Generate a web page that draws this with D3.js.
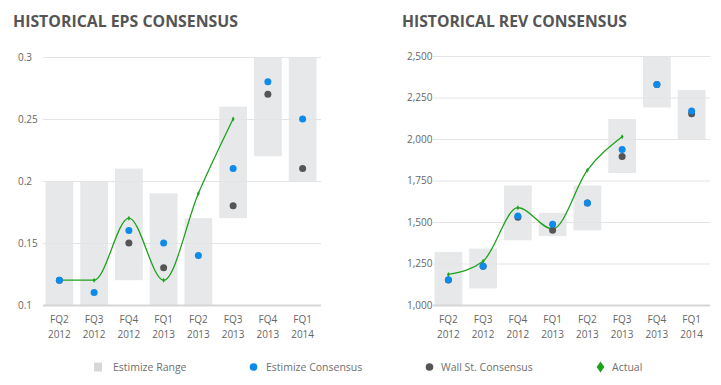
<!DOCTYPE html>
<html>
<head>
<meta charset="utf-8">
<script src="https://cdn.jsdelivr.net/npm/d3@7"></script>
<style>
  html, body { margin: 0; padding: 0; background: #fff; }
  svg { display: block; font-family: "Open Sans", "Lato", sans-serif; }
</style>
</head>
<body>
<svg id="chart" width="721" height="385"></svg>
<script>
// ---------- data ----------
const quarters = ["FQ2", "FQ3", "FQ4", "FQ1", "FQ2", "FQ3", "FQ4", "FQ1"];
const years    = ["2012", "2012", "2012", "2013", "2013", "2013", "2013", "2014"];

// EPS
const epsRangeLow   = [0.10, 0.10, 0.12, 0.10, 0.10, 0.17, 0.22, 0.20];
const epsRangeHigh  = [0.20, 0.20, 0.21, 0.19, 0.17, 0.26, 0.30, 0.30];
const epsEstimize   = [0.12, 0.11, 0.16, 0.15, 0.14, 0.21, 0.28, 0.25];
const epsWallSt     = [0.12, null, 0.15, 0.13, null, 0.18, 0.27, 0.21];
const epsActual     = [0.12, 0.12, 0.17, 0.12, 0.19, 0.25, null, null];
const epsTicks      = [0.1, 0.15, 0.2, 0.25, 0.3];
const epsTickLabels = ["0.1", "0.15", "0.2", "0.25", "0.3"];

// REV
const revRangeLow   = [1000, 1100, 1390, 1415, 1450, 1795, 2190, 2000];
const revRangeHigh  = [1320, 1340, 1720, 1555, 1720, 2120, 2500, 2295];
const revEstimize   = [1152, 1234, 1536, 1486, 1614, 1936, 2328, 2168];
const revWallSt     = [1150, 1234, 1528, 1450, 1614, 1894, 2328, 2152];
const revActual     = [1184, 1264, 1586, 1458, 1812, 2014, null, null];
const revTicks      = [1000, 1250, 1500, 1750, 2000, 2250, 2500];
const revTickLabels = ["1,000", "1,250", "1,500", "1,750", "2,000", "2,250", "2,500"];

const titles = ["HISTORICAL EPS CONSENSUS", "HISTORICAL REV CONSENSUS"];
const legendLabels = ["Estimize Range", "Estimize Consensus", "Wall St. Consensus", "Actual"];

// ---------- styles ----------
const C = {
  range: "#e7e8e9",
  grid: "#e4e4e4",
  axis: "#d6d6d6",
  blue: "#0e8be8",
  gray: "#555555",
  green: "#1ea21e",
  text: "#666666",
  legendText: "#707070",
  title: "#555555"
};

const svg = d3.select("#chart");

function drawPanel(cfg) {
  const g = svg.append("g");
  const x = d3.scaleBand().domain(d3.range(quarters.length))
    .range([cfg.x0, cfg.x1]).paddingInner(0.2).paddingOuter(0.1);
  const y = d3.scaleLinear().domain(cfg.domain).range([cfg.yBottom, cfg.yTop]);

  // title
  g.append("text")
    .attr("x", cfg.titleX).attr("y", 27)
    .attr("font-size", 15.5).attr("font-weight", 700)
    .attr("fill", C.title)
    .attr("textLength", 225).attr("lengthAdjust", "spacingAndGlyphs")
    .text(cfg.title);

  // range bars
  g.append("g").selectAll("rect")
    .data(d3.range(quarters.length))
    .join("rect")
    .attr("x", i => x(i))
    .attr("width", x.bandwidth())
    .attr("y", i => y(cfg.high[i]))
    .attr("height", i => y(cfg.low[i]) - y(cfg.high[i]))
    .attr("fill", C.range);

  // y axis with gridlines
  const yAxis = d3.axisLeft(y)
    .tickValues(cfg.ticks)
    .tickFormat((d, i) => cfg.tickLabels[i])
    .tickSizeInner(-(cfg.gridX1 - cfg.gridX0))
    .tickSizeOuter(0);
  const ya = g.append("g").attr("transform", `translate(${cfg.gridX0},0)`).call(yAxis);
  ya.select(".domain").remove();
  ya.selectAll(".tick line")
    .attr("stroke", (d) => d === cfg.domain[0] ? C.axis : C.grid)
    .attr("stroke-width", (d) => d === cfg.domain[0] ? 2 : 1);
  ya.selectAll(".tick text")
    .attr("x", cfg.labelX - cfg.gridX0)
    .attr("text-anchor", "start")
    .attr("fill", C.text)
    .attr("font-size", 10)
    .attr("font-family", "Open Sans, sans-serif");

  // x axis
  const xAxis = d3.axisBottom(x).tickSize(0).tickFormat(i => quarters[i]);
  const xa = g.append("g").attr("transform", `translate(0,${cfg.yBottom})`).call(xAxis);
  xa.select(".domain").remove();
  xa.selectAll(".tick text").each(function(i) {
    const t = d3.select(this);
    t.text(null).attr("fill", C.text).attr("font-size", 10)
      .attr("font-family", "Open Sans, sans-serif").attr("y", 0).attr("dy", null);
    t.append("tspan").attr("x", 0).attr("y", 18).text(quarters[i]);
    t.append("tspan").attr("x", 0).attr("y", 33).text(years[i]);
  });

  const cx = i => x(i) + x.bandwidth() / 2;
  const idx = d3.range(quarters.length);

  // actual line (under the dots)
  const actIdx = idx.filter(i => cfg.act[i] != null);
  const line = d3.line().x(cx).y(i => y(cfg.act[i])).curve(d3.curveMonotoneX);
  g.append("path").datum(actIdx)
    .attr("d", line).attr("fill", "none")
    .attr("stroke", C.green).attr("stroke-width", 1.3);
  const sym = d3.symbol().type(d3.symbolDiamond).size(7);
  g.append("g").selectAll("path")
    .data(actIdx).join("path")
    .attr("transform", i => `translate(${cx(i)},${y(cfg.act[i])})`)
    .attr("d", sym).attr("fill", C.green);

  // wall st
  g.append("g").selectAll("circle")
    .data(idx.filter(i => cfg.wall[i] != null))
    .join("circle")
    .attr("cx", cx).attr("cy", i => y(cfg.wall[i])).attr("r", 3.5)
    .attr("fill", C.gray);

  // estimize
  g.append("g").selectAll("circle")
    .data(idx.filter(i => cfg.est[i] != null))
    .join("circle")
    .attr("cx", cx).attr("cy", i => y(cfg.est[i])).attr("r", 3.5)
    .attr("fill", C.blue);
}

drawPanel({
  title: titles[0], titleX: 13,
  x0: 42, x1: 320, gridX0: 43, gridX1: 321,
  yTop: 57, yBottom: 305, labelX: 18,
  domain: [0.1, 0.3], ticks: epsTicks, tickLabels: epsTickLabels,
  low: epsRangeLow, high: epsRangeHigh, est: epsEstimize, wall: epsWallSt, act: epsActual
});

drawPanel({
  title: titles[1], titleX: 402,
  x0: 431, x1: 709, gridX0: 433, gridX1: 710,
  yTop: 56, yBottom: 305, labelX: 407,
  domain: [1000, 2500], ticks: revTicks, tickLabels: revTickLabels,
  low: revRangeLow, high: revRangeHigh, est: revEstimize, wall: revWallSt, act: revActual
});

// ---------- legend ----------
const lg = svg.append("g").attr("font-size", 10.5).attr("fill", C.legendText)
  .attr("font-family", "Open Sans, sans-serif");
const ly = 367;
const legendX = [94, 250, 426, 597];
const textX = [113, 266, 441, 612];
lg.append("rect").attr("x", legendX[0]).attr("y", ly - 4.5).attr("width", 8).attr("height", 9)
  .attr("fill", "#d6d7d9");
lg.append("circle").attr("cx", legendX[1] + 3.5).attr("cy", ly).attr("r", 3.8).attr("fill", C.blue);
lg.append("circle").attr("cx", legendX[2] + 3.5).attr("cy", ly).attr("r", 3.8).attr("fill", C.gray);
lg.append("path").attr("transform", `translate(${legendX[3] + 3.5},${ly}) scale(1.25,1)`)
  .attr("d", d3.symbol().type(d3.symbolDiamond).size(34)).attr("fill", C.green);
legendLabels.forEach((t, i) => {
  lg.append("text").attr("x", textX[i]).attr("y", ly + 3.8).text(t);
});
</script>
</body>
</html>
